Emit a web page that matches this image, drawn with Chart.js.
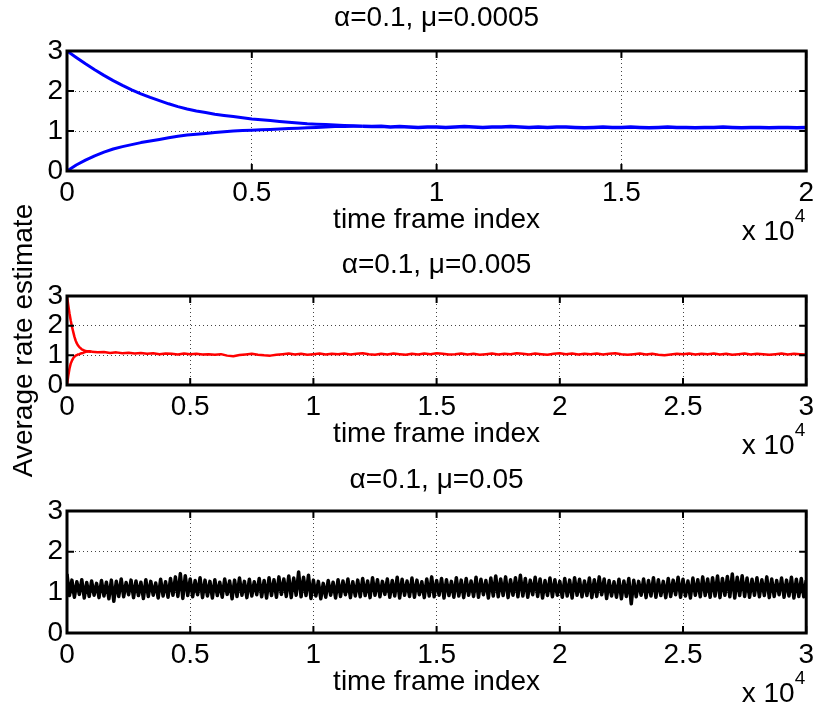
<!DOCTYPE html>
<html>
<head>
<meta charset="utf-8">
<script src="https://cdn.jsdelivr.net/npm/chart.js@4"></script>
<style>
  body { margin: 0; background: #fff; }
  #wrap { position: relative; width: 819px; height: 709px; }
  #wrap canvas { position: absolute; left: 0; top: 0; }
</style>
</head>
<body>
<div id="wrap">
  <canvas id="c1" width="819" height="709"></canvas>
  <canvas id="c2" width="819" height="709"></canvas>
  <canvas id="c3" width="819" height="709"></canvas>
</div>
<script>
// mu = 0.0005, two starts (3 and 0) converging, then one shared tail
var blueStep = 250;
var blueUpper = [3.00, 2.84, 2.68, 2.53, 2.39, 2.26, 2.14, 2.03, 1.93, 1.84, 1.76, 1.68, 1.61, 1.55, 1.50, 1.46, 1.42,
    1.39, 1.36, 1.33, 1.30, 1.28, 1.26, 1.24, 1.22, 1.20, 1.18, 1.17, 1.16, 1.15, 1.14, 1.13, 1.12];
var blueLower = [0.00, 0.15, 0.27, 0.38, 0.47, 0.55, 0.61, 0.66, 0.71, 0.75, 0.79, 0.83, 0.87, 0.90, 0.92, 0.94, 0.96,
    0.98, 1.00, 1.01, 1.02, 1.03, 1.04, 1.05, 1.06, 1.07, 1.08, 1.09, 1.10, 1.11, 1.11, 1.12, 1.12];
var blueTailStart = 8000;
var blueTail = [1.12, 1.11, 1.12, 1.10, 1.11, 1.10, 1.09, 1.10, 1.10, 1.09,
    1.10, 1.11, 1.10, 1.09, 1.10, 1.10, 1.11, 1.10, 1.09, 1.10,
    1.09, 1.10, 1.10, 1.09, 1.08, 1.09, 1.10, 1.09, 1.09, 1.10,
    1.09, 1.08, 1.09, 1.10, 1.09, 1.09, 1.08, 1.09, 1.09, 1.10,
    1.09, 1.08, 1.09, 1.09, 1.08, 1.09, 1.09, 1.08, 1.09];

// mu = 0.005
var redStep = 50;
var redUpper = [3.0, 2.7, 2.42, 2.18, 1.97, 1.8, 1.63, 1.5, 1.4, 1.33, 1.28, 1.24, 1.2, 1.18, 1.16, 1.15, 1.14,
    1.13, 1.13, 1.12, 1.12];
var redLower = [0.0, 0.3, 0.55, 0.72, 0.82, 0.9, 0.95, 0.99, 1.01, 1.03, 1.04, 1.06, 1.07, 1.08, 1.1, 1.12, 1.13,
    1.14, 1.14, 1.13, 1.12];
var redTailStart = 1000;
var redTailStep = 250;
var redTail = [1.12, 1.10, 1.11, 1.08, 1.10, 1.07, 1.09, 1.06, 1.08, 1.05,
    1.07, 1.04, 1.06, 1.05, 1.03, 1.06, 1.04, 1.05, 1.03, 1.04,
    1.02, 1.04, 0.99, 0.97, 1.01, 1.03, 1.05, 1.02, 1.00, 0.99,
    1.02, 1.04, 1.06, 1.03, 1.05, 1.02, 1.04, 1.06, 1.03, 1.05,
    1.04, 1.06, 1.03, 1.05, 1.07, 1.04, 1.02, 1.05, 1.03, 1.06,
    1.04, 1.02, 1.05, 1.03, 1.06, 1.04, 1.07, 1.05, 1.03, 1.04,
    1.06, 1.03, 1.05, 1.02, 1.04, 1.06, 1.03, 1.05, 1.04, 1.07,
    1.05, 1.03, 1.06, 1.04, 1.02, 1.05, 1.07, 1.04, 1.06, 1.03,
    1.05, 1.04, 1.06, 1.03, 1.05, 1.07, 1.04, 1.02, 1.04, 1.06,
    1.03, 1.05, 1.02, 1.00, 1.03, 1.05, 1.04, 1.06, 1.03, 1.05,
    1.04, 1.06, 1.03, 1.05, 1.02, 1.04, 1.06, 1.03, 1.05, 1.04,
    1.02, 1.04, 1.06, 1.03, 1.05, 1.04, 1.03];

// mu = 0.05, noisy band
var blackStep = 100;
var blackNoise = [
    1.45, 0.92, 1.30, 0.88, 1.26, 0.95, 1.31, 0.86, 1.24, 0.90, 1.28, 0.93, 1.22, 0.87, 1.29, 0.91, 1.25, 0.84, 1.30, 0.78,
    1.27, 0.90, 1.33, 0.89, 1.24, 0.94, 1.30, 0.87, 1.28, 0.92, 1.25, 0.85, 1.31, 0.90, 1.27, 0.93, 1.23, 0.86, 1.32, 0.91,
    1.26, 0.88, 1.34, 0.93, 1.38, 0.90, 1.46, 0.85, 1.41, 0.92, 1.33, 0.89, 1.29, 0.94, 1.36, 0.87, 1.30, 0.91, 1.27, 0.86,
    1.31, 0.92, 1.25, 0.88, 1.33, 0.95, 1.28, 0.84, 1.30, 0.90, 1.35, 0.93, 1.27, 0.87, 1.32, 0.91, 1.26, 0.94, 1.34, 0.89,
    1.29, 0.86, 1.36, 0.92, 1.31, 0.88, 1.38, 0.95, 1.33, 0.90, 1.40, 0.87, 1.35, 0.93, 1.50, 0.89, 1.37, 0.92, 1.42, 0.85,
    1.30, 0.91, 1.27, 0.84, 1.22, 0.88, 1.29, 0.93, 1.25, 0.86, 1.31, 0.90, 1.28, 0.94, 1.33, 0.87, 1.26, 0.91, 1.30, 0.89,
    1.34, 0.92, 1.28, 0.87, 1.36, 0.93, 1.31, 0.89, 1.27, 0.95, 1.33, 0.88, 1.29, 0.91, 1.37, 0.86, 1.32, 0.93, 1.28, 0.90,
    1.35, 0.88, 1.30, 0.94, 1.26, 0.87, 1.33, 0.91, 1.38, 0.89, 1.29, 0.93, 1.34, 0.86, 1.31, 0.92, 1.27, 0.88, 1.36, 0.91,
    1.30, 0.87, 1.34, 0.93, 1.28, 0.90, 1.37, 0.88, 1.32, 0.94, 1.29, 0.86, 1.35, 0.91, 1.40, 0.89, 1.33, 0.92, 1.38, 0.87,
    1.31, 0.93, 1.36, 0.89, 1.42, 0.91, 1.34, 0.88, 1.30, 0.94, 1.37, 0.90, 1.33, 0.86, 1.29, 0.92, 1.35, 0.89, 1.31, 0.93,
    1.27, 0.88, 1.34, 0.91, 1.30, 0.86, 1.36, 0.93, 1.32, 0.89, 1.28, 0.92, 1.35, 0.87, 1.31, 0.90, 1.38, 0.94, 1.33, 0.85,
    1.29, 0.91, 1.26, 0.88, 1.32, 0.84, 1.28, 0.90, 1.34, 0.72, 1.30, 0.89, 1.27, 0.93, 1.33, 0.87, 1.29, 0.91, 1.36, 0.88,
    1.31, 0.92, 1.27, 0.87, 1.34, 0.90, 1.30, 0.94, 1.37, 0.88, 1.32, 0.91, 1.28, 0.86, 1.35, 0.93, 1.31, 0.89, 1.38, 0.92,
    1.33, 0.88, 1.36, 0.91, 1.40, 0.87, 1.34, 0.93, 1.39, 0.89, 1.45, 0.86, 1.37, 0.92, 1.41, 0.90, 1.35, 0.88, 1.32, 0.93,
    1.36, 0.89, 1.31, 0.92, 1.38, 0.87, 1.33, 0.90, 1.29, 0.94, 1.35, 0.88, 1.30, 0.91, 1.37, 0.86, 1.32, 0.90, 1.34, 0.89,
    1.30];

var titles = ['\u03b1=0.1, \u03bc=0.0005', '\u03b1=0.1, \u03bc=0.005', '\u03b1=0.1, \u03bc=0.05'];
var xMaxes = [20000, 30000, 30000];
var xLabel = 'time frame index';
var yLabel = 'Average rate estimate';

var FS = 28;
var FONT = "'Liberation Sans', Arial, Helvetica, sans-serif";
Chart.defaults.font.family = FONT;
Chart.defaults.font.size = FS;
Chart.defaults.color = '#000';

function pts(start, step, values) {
    return values.map(function (v, i) { return {x: start + i * step, y: v}; });
}

function line(data, color, width) {
    return {data: data, borderColor: color, borderWidth: width, pointRadius: 0, fill: false};
}

// matlab style box, inward ticks and the "x 10^4" exponent
var boxPlugin = {
    id: 'box',
    afterDatasetsDraw: function (chart) {
        var ctx = chart.ctx, a = chart.chartArea, x = chart.scales.x, y = chart.scales.y;
        ctx.save();
        ctx.strokeStyle = '#000';
        ctx.lineWidth = 2;
        ctx.beginPath();
        x.ticks.forEach(function (t) {
            var px = x.getPixelForValue(t.value);
            ctx.moveTo(px, a.bottom); ctx.lineTo(px, a.bottom - 7);
            ctx.moveTo(px, a.top); ctx.lineTo(px, a.top + 7);
        });
        y.ticks.forEach(function (t) {
            var py = y.getPixelForValue(t.value);
            ctx.moveTo(a.left, py); ctx.lineTo(a.left + 7, py);
            ctx.moveTo(a.right, py); ctx.lineTo(a.right - 7, py);
        });
        ctx.stroke();
        ctx.lineWidth = 3;
        ctx.strokeRect(a.left, a.top, a.right - a.left, a.bottom - a.top);

        ctx.fillStyle = '#000';
        ctx.textAlign = 'right';
        ctx.textBaseline = 'alphabetic';
        var base = a.bottom + 69;
        ctx.font = '19px ' + FONT;
        ctx.fillText('4', a.right - 1, base - 18);
        var w = ctx.measureText('4').width;
        ctx.font = FS + 'px ' + FONT;
        ctx.fillText('x 10', a.right - 1 - w, base);
        ctx.restore();
    }
};

function makeChart(id, idx, datasets, padTop, titleGap, areaBottom, showY) {
    var gridOpts = {color: '#444', lineWidth: 1, drawTicks: false};
    var borderOpts = {display: false, dash: [1, 3]};
    return new Chart(document.getElementById(id), {
        type: 'line',
        data: {datasets: datasets},
        options: {
            responsive: false,
            animation: false,
            devicePixelRatio: 1,
            layout: {padding: {top: padTop, bottom: 709 - (areaBottom + 70), left: 0, right: 8}},
            elements: {line: {tension: 0, borderJoinStyle: 'round'}},
            plugins: {
                legend: {display: false},
                tooltip: {enabled: false},
                title: {
                    display: true, text: titles[idx], color: '#000', fullSize: false,
                    font: {size: FS, weight: 'normal'}, padding: {top: 0, bottom: titleGap}
                }
            },
            scales: {
                x: {
                    type: 'linear', min: 0, max: xMaxes[idx],
                    afterFit: function (s) { s.height = 70; },
                    ticks: {
                        stepSize: 5000, maxRotation: 0, autoSkip: false, padding: 5,
                        callback: function (v) { return String(v / 10000); }
                    },
                    grid: gridOpts, border: borderOpts,
                    title: {display: true, text: xLabel, padding: {top: 0, bottom: 4}}
                },
                y: {
                    min: 0, max: 3,
                    afterFit: function (s) { s.width = 67; },
                    ticks: {stepSize: 1, padding: 4, autoSkip: false},
                    grid: gridOpts, border: borderOpts,
                    title: {display: showY, text: yLabel, padding: {top: 7, bottom: 0}}
                }
            }
        },
        plugins: [boxPlugin]
    });
}

makeChart('c1', 0, [
    line(pts(0, blueStep, blueUpper), '#0000ff', 3),
    line(pts(0, blueStep, blueLower), '#0000ff', 3),
    line(pts(blueTailStart, blueStep, blueTail), '#0000ff', 3.5)
], 1.2, 16.2, 171, false);

makeChart('c2', 1, [
    line(pts(0, redStep, redUpper), '#ff0000', 2.5),
    line(pts(0, redStep, redLower), '#ff0000', 2.5),
    line(pts(redTailStart, redTailStep, redTail), '#ff0000', 2.5)
], 248.2, 14.2, 385, true);

makeChart('c3', 2, [
    line(pts(0, blackStep, blackNoise), '#000000', 3.5)
], 463.2, 14.2, 633, false);
</script>
</body>
</html>
